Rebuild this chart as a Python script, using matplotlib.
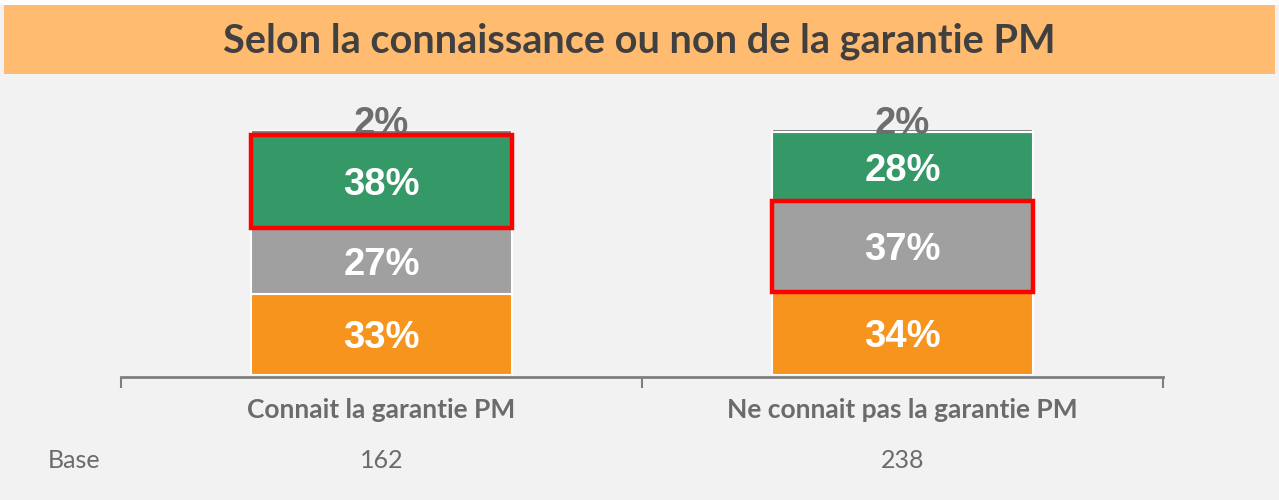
import numpy as np
import matplotlib.pyplot as plt
from matplotlib.patches import Rectangle

categories = ['Connait la garantie PM', 'Ne connait pas la garantie PM']
bases = ['162', '238']
orange_vals = [33, 34]
gray_vals = [27, 37]
green_vals = [38, 28]
top_vals = [2, 2]
highlight = ['green', 'gray']  # segment framed in red for each bar

title = 'Selon la connaissance ou non de la garantie PM'

c_orange = '#F7941D'
c_gray = '#A0A0A0'
c_green = '#349967'
c_top = '#7F7F7F'
c_bg = '#F2F2F2'
c_banner = '#FFBB70'

fig = plt.figure(figsize=(12.79, 5.0), dpi=100)
fig.patch.set_facecolor(c_bg)

# title banner
fig.patches.append(Rectangle((4/1279, 1-74/500), 1271/1279, 69/500, transform=fig.transFigure,
                             facecolor=c_banner, edgecolor='none', zorder=0))
fig.patches.append(Rectangle((0, 1-5/500), 1, 5/500, transform=fig.transFigure,
                             facecolor='white', edgecolor='none', zorder=0))
fig.text(0.5, 1-41/500, title, ha='center', va='center', fontsize=28.5, fontweight='bold',
         color='#404040', family=['Lato', 'DejaVu Sans'])

ax = fig.add_axes([121/1279, 125/500, 1042/1279, 245/500])
ax.set_facecolor(c_bg)
x = np.arange(len(categories))
w = 0.5

orange_vals = np.array(orange_vals)
gray_vals = np.array(gray_vals)
green_vals = np.array(green_vals)
top_vals = np.array(top_vals)

kw = dict(width=w, edgecolor='white', linewidth=1.5)
b1 = ax.bar(x, orange_vals, color=c_orange, **kw)
b2 = ax.bar(x, gray_vals, bottom=orange_vals, color=c_gray, **kw)
b3 = ax.bar(x, green_vals, bottom=orange_vals + gray_vals, color=c_green, **kw)
b4 = ax.bar(x, top_vals, bottom=orange_vals + gray_vals + green_vals, color=c_top, **kw)

lab = dict(ha='center', va='center', fontsize=27.5, fontweight='bold', color='white',
           family=['Liberation Sans', 'DejaVu Sans'], zorder=5)
dy = -1.6  # labels sit slightly below segment centre
for i in range(len(x)):
    ax.text(x[i], orange_vals[i] / 2 + dy, f'{orange_vals[i]}%', **lab)
    ax.text(x[i], orange_vals[i] + gray_vals[i] / 2 + dy, f'{gray_vals[i]}%', **lab)
    ax.text(x[i], orange_vals[i] + gray_vals[i] + green_vals[i] / 2 + dy, f'{green_vals[i]}%', **lab)
    ax.text(x[i], 102.5, f'{top_vals[i]}%', ha='center', va='center', fontsize=27.5,
            fontweight='bold', color='#6E6E6E', family=['Liberation Sans', 'DejaVu Sans'],
            zorder=2, clip_on=False)

    # red highlight frame
    if highlight[i] == 'green':
        y0, h = orange_vals[i] + gray_vals[i], green_vals[i]
    else:
        y0, h = orange_vals[i], gray_vals[i]
    ax.add_patch(Rectangle((x[i] - w / 2, y0), w, h, facecolor='none', edgecolor='#FF0000',
                           linewidth=3.2, zorder=4, clip_on=False))

ax.set_xlim(-0.5, 1.5)
ax.set_ylim(0, 100)
for s in ['top', 'right', 'left']:
    ax.spines[s].set_visible(False)
ax.spines['bottom'].set_color('#7F7F7F')
ax.spines['bottom'].set_linewidth(2)
ax.spines['bottom'].set_position(('data', -0.8))
ax.set_yticks([])
ax.set_xticks([-0.5, 0.5, 1.5])
ax.set_xticklabels([])
ax.tick_params(axis='x', length=8, width=1.5, color='#7F7F7F')
ax.set_xticks(x, minor=True)
ax.set_xticklabels(categories, minor=True, fontsize=19, fontweight='bold', color='#6B6B6B',
                   family=['Lato', 'DejaVu Sans'])
ax.tick_params(axis='x', which='minor', length=0, pad=15)

# base row
fig.text(48/1279, 1-460/500, 'Base', ha='left', va='center', fontsize=18, color='#6B6B6B',
         family=['Lato', 'DejaVu Sans'])
for i in range(len(x)):
    xf = (121 + (x[i] + 0.5) * 521) / 1279
    fig.text(xf, 1-460/500, bases[i], ha='center', va='center', fontsize=18, color='#6B6B6B',
             family=['Lato', 'DejaVu Sans'])

fig.savefig('out.png', dpi=100, facecolor=c_bg)
